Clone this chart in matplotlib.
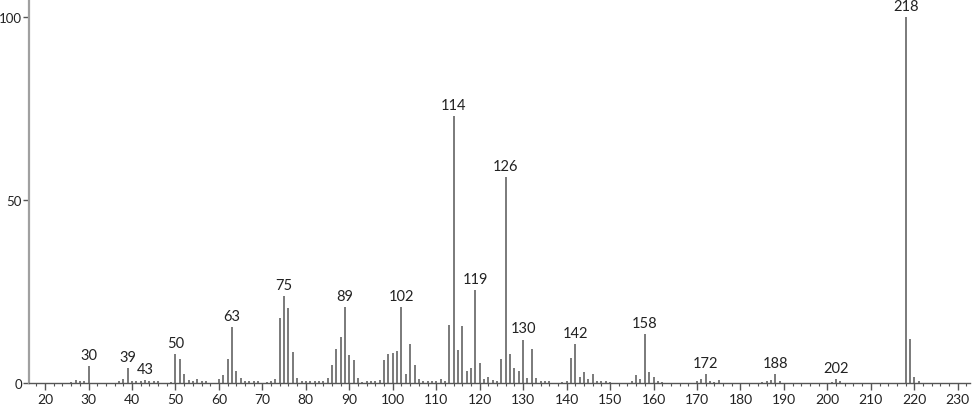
import matplotlib.pyplot as plt
import numpy as np
from matplotlib.ticker import MultipleLocator

# m/z and relative intensity
mz = [26, 27, 28, 29, 30, 37, 38, 39, 40, 41, 42, 43, 44, 45, 46, 49,
      50, 51, 52, 53, 54, 55, 56, 57, 60, 61, 62, 63, 64, 65, 66, 67, 68, 69, 71, 72,
      73, 74, 75, 76, 77, 78, 79, 80, 81, 82, 83, 84, 85, 86, 87, 88, 89, 90, 91, 92,
      93, 94, 95, 96, 97, 98, 99, 100, 101, 102, 103, 104, 105, 106, 107, 108, 109,
      110, 111, 112, 113, 114, 115, 116, 117, 118, 119, 120, 121, 122, 123, 124, 125,
      126, 127, 128, 129, 130, 131, 132, 133, 134, 135, 136, 139, 140, 141, 142, 143,
      144, 145, 146, 147, 148, 149, 150, 155, 156, 157, 158, 159, 160, 161, 162,
      170, 171, 172, 173, 174, 175, 185, 186, 187, 188, 189, 201, 202, 203,
      218, 219, 220, 221]
intensity = [0.4, 0.9, 0.6, 0.6, 4.6, 0.5, 1.1, 4.0, 0.5, 0.5, 0.5, 0.8, 0.5, 0.5, 0.5, 0.4,
             8.0, 6.5, 2.5, 0.8, 0.6, 1.1, 0.6, 0.6, 1.1, 2.3, 6.6, 15.3, 3.2, 1.5, 0.7, 0.5, 0.5, 0.5, 0.4, 0.5,
             1.1, 17.8, 23.7, 20.5, 8.4, 1.5, 0.5, 0.5, 0.5, 0.5, 0.5, 0.5, 1.5, 4.9, 9.3, 12.5, 20.7, 7.7, 6.3, 1.3,
             0.4, 0.5, 0.5, 0.5, 0.8, 6.3, 7.9, 8.2, 8.7, 20.7, 2.5, 10.7, 4.9, 1.1, 0.6, 0.5, 0.5,
             0.5, 1.1, 0.7, 15.8, 73.0, 9.1, 15.6, 3.4, 4.1, 25.4, 5.5, 1.1, 1.6, 0.8, 0.6, 6.6,
             56.3, 8.0, 4.1, 3.4, 11.9, 1.5, 9.3, 1.4, 0.6, 0.5, 0.5, 0.4, 0.5, 6.8, 10.6, 1.7,
             2.9, 1.1, 2.4, 0.7, 0.5, 0.5, 0.3, 0.5, 2.2, 1.1, 13.3, 3.0, 1.7, 0.6, 0.4,
             0.7, 1.1, 2.5, 0.5, 0.3, 0.9, 0.3, 0.5, 0.8, 2.5, 0.5, 0.3, 1.2, 0.5,
             100.0, 12.1, 1.6, 0.5]
labeled = [30, 39, 43, 50, 63, 75, 89, 102, 114, 119, 126, 130, 142, 158, 172, 188, 202, 218]

plt.rcParams['font.family'] = ['Lato', 'DejaVu Sans']

fig = plt.figure(figsize=(9.74, 4.06), dpi=100)
ax = fig.add_axes([0.0298, 0.054, 0.966, 0.946])

ax.vlines(mz, 0, intensity, colors='#707070', linewidth=1.3)

lookup = dict(zip(mz, intensity))
for m in labeled:
    ax.text(m, lookup[m] + 1.1, str(m), ha='center', va='bottom',
            fontsize=10.5, color='#222222')

ax.set_xlim(16.3, 232.8)
ax.set_ylim(0, 104.9)
ax.xaxis.set_major_locator(MultipleLocator(10))
ax.xaxis.set_minor_locator(MultipleLocator(2))
ax.set_yticks([0, 50, 100])

for s in ['top', 'right']:
    ax.spines[s].set_visible(False)
ax.spines['left'].set_color('#a0a0a0')
ax.spines['left'].set_linewidth(1.6)
ax.spines['bottom'].set_color('#555555')
ax.spines['bottom'].set_linewidth(1.0)

ax.tick_params(axis='x', which='major', length=5, width=1, color='#555555',
               labelsize=10, pad=2, labelcolor='#222222')
ax.tick_params(axis='x', which='minor', length=2.5, width=0.8, color='#555555')
ax.tick_params(axis='y', which='major', length=4, width=1, color='#555555',
               labelsize=9.5, pad=1, labelcolor='#222222')

fig.savefig('out.png', dpi=100)
